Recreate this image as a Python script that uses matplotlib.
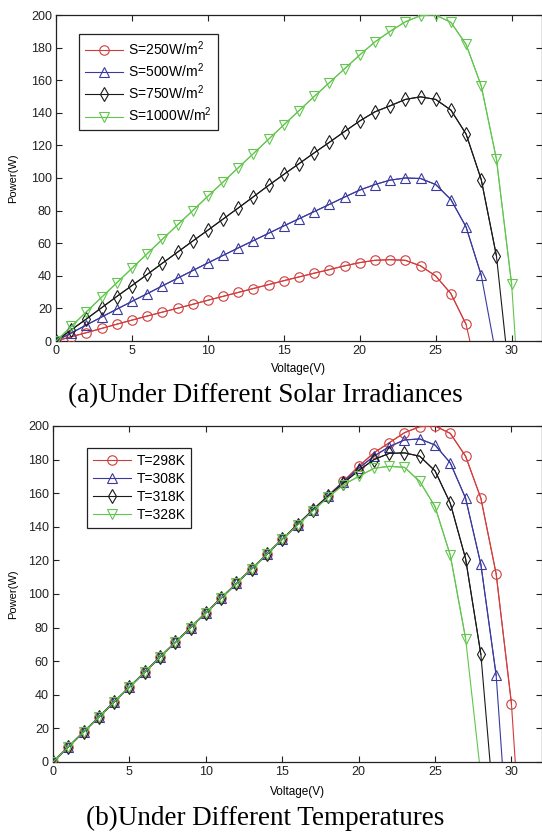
import matplotlib
matplotlib.use("Agg")
import matplotlib.pyplot as plt
import numpy as np

plt.rcParams['font.family'] = ['Liberation Sans', 'DejaVu Sans']
plt.rcParams['mathtext.fontset'] = 'custom'
plt.rcParams['mathtext.rm'] = 'Liberation Sans'

# ---------------- data ----------------
# (a) different irradiances: power (W) at integer voltages 0,1,2,...
p_s250 = [0, 2.6, 5.1, 7.7, 10.3, 12.8, 15.3, 17.7, 20.1, 22.5, 25.0, 27.4, 29.8,
          32.2, 34.6, 37.0, 39.3, 41.6, 43.8, 46.1, 48.1, 49.5, 49.9, 49.5, 46.1,
          39.9, 29.1, 10.2]
voc_s250 = 27.25
p_s500 = [0, 4.9, 9.8, 14.7, 19.5, 24.3, 29.0, 33.8, 38.5, 43.2, 47.9, 52.5, 57.1,
          61.6, 66.1, 70.6, 75.0, 79.4, 83.8, 88.3, 92.6, 96.0, 98.7, 100.0, 99.7,
          96.0, 86.8, 70.0, 40.3]
voc_s500 = 28.8
p_s750 = [0, 6.8, 13.5, 20.4, 27.3, 34.0, 40.8, 47.7, 54.5, 61.3, 68.0, 74.8, 81.6,
          88.5, 95.5, 102.2, 108.8, 115.4, 121.9, 128.5, 135.0, 140.6, 144.3, 148.2,
          149.8, 148.2, 141.7, 127.0, 99.0, 52.2]
voc_s750 = 29.6
p_s1000 = [0, 8.9, 17.9, 26.8, 35.7, 44.6, 53.5, 62.4, 71.2, 80.0, 88.8, 97.5, 106.3,
           115.0, 123.8, 132.6, 141.3, 150.0, 158.5, 167.0, 175.5, 183.5, 190.0,
           195.8, 199.6, 200.0, 195.5, 182.0, 156.5, 111.5, 34.8]
voc_s1000 = 30.25

# (b) different temperatures
p_t298 = [0, 8.9, 17.9, 26.8, 35.7, 44.6, 53.5, 62.4, 71.2, 80.0, 88.8, 97.5, 106.3,
          115.0, 123.8, 132.6, 141.3, 150.0, 158.5, 167.0, 176.0, 184.0, 190.0,
          196.0, 199.6, 200.0, 195.6, 182.0, 157.0, 112.0, 34.8]
voc_t298 = 30.25
p_t308 = [0, 8.9, 17.9, 26.8, 35.7, 44.6, 53.5, 62.4, 71.2, 80.0, 88.8, 97.5, 106.3,
          115.0, 123.8, 132.6, 141.3, 150.0, 158.4, 166.8, 174.8, 182.0, 187.7,
          191.7, 192.3, 188.7, 178.0, 157.0, 117.6, 51.6]
voc_t308 = 29.4
p_t318 = [0, 8.9, 17.9, 26.8, 35.7, 44.6, 53.5, 62.4, 71.2, 80.0, 88.8, 97.5, 106.3,
          115.0, 123.8, 132.6, 141.3, 150.0, 158.2, 166.0, 173.5, 180.0, 183.7,
          184.0, 182.0, 173.3, 154.0, 121.0, 64.0]
voc_t318 = 28.6
p_t328 = [0, 8.9, 17.9, 26.8, 35.7, 44.6, 53.5, 62.4, 71.2, 80.0, 88.8, 97.5, 106.3,
          115.0, 123.8, 132.6, 141.0, 149.5, 157.5, 165.0, 170.0, 174.8, 176.0,
          175.4, 167.0, 152.0, 123.0, 73.5]
voc_t328 = 27.9

labels_a = ['S=250W/m$^2$', 'S=500W/m$^2$', 'S=750W/m$^2$', 'S=1000W/m$^2$']
labels_b = ['T=298K', 'T=308K', 'T=318K', 'T=328K']
xticks = [0, 5, 10, 15, 20, 25, 30]
yticks = [0, 20, 40, 60, 80, 100, 120, 140, 160, 180, 200]
caption_a = '(a)Under Different Solar Irradiances'
caption_b = '(b)Under Different Temperatures'

# ---------------- style ----------------
colors = ['#d23c3c', '#3a3a9e', '#1a1a1a', '#62c64e']
markers = ['o', '^', 'd', 'v']

W, H = 542, 834
fig = plt.figure(figsize=(W / 100, H / 100), dpi=100)


def px_axes(l, t, r, b):
    return fig.add_axes([l / W, 1 - b / H, (r - l) / W, (b - t) / H])


def draw(ax, series, vocs, labels, leg_xy, leg_h, xlpad, ylab_px):
    handles = []
    for p, voc, c, m, lab in zip(series, vocs, colors, markers, labels):
        v = np.arange(len(p))
        ax.plot(list(v) + [voc], list(p) + [0], color=c, lw=0.8, zorder=2)
        h, = ax.plot(v, p, color=c, lw=0.8, marker=m, ms=6.8, mfc='none',
                     mec=c, mew=0.8, linestyle='-', label=lab, zorder=3)
        handles.append(h)
    ax.set_xlim(0, 32)
    ax.set_ylim(0, 200)
    ax.set_xticks(xticks)
    ax.set_yticks(yticks)
    ax.tick_params(direction='in', length=4, width=0.8, top=True, right=True,
                   labelsize=9, pad=3, colors='#222222')
    for s in ax.spines.values():
        s.set_linewidth(0.9)
        s.set_color('#222222')
    ax.set_xlabel('Voltage(V)', fontsize=8.5, labelpad=xlpad)
    ax.set_ylabel('Power(W)', fontsize=8)
    ax.yaxis.set_label_coords(-ylab_px / ax.bbox.width, 0.5)
    leg = ax.legend(handles=handles, loc='upper left',
                    bbox_to_anchor=(leg_xy[0] / W, 1 - leg_xy[1] / H),
                    bbox_transform=fig.transFigure, fontsize=10,
                    frameon=True, fancybox=False, edgecolor='#222222',
                    framealpha=1, borderaxespad=0, handlelength=2.8,
                    handletextpad=0.35, labelspacing=leg_h, borderpad=0.4)
    leg.get_frame().set_linewidth(0.9)


ax1 = px_axes(56, 15, 542, 341)
draw(ax1, [p_s250, p_s500, p_s750, p_s1000],
     [voc_s250, voc_s500, voc_s750, voc_s1000], labels_a, (79, 34), 0.25, 4, 38)

ax2 = px_axes(53, 426, 542, 762)
draw(ax2, [p_t298, p_t308, p_t318, p_t328],
     [voc_t298, voc_t308, voc_t318, voc_t328], labels_b, (87, 448), 0.3, 6, 35)

serif = ['Liberation Serif', 'DejaVu Serif']
fig.text(265 / W, 1 - 396 / H, caption_a, ha='center', va='center',
         fontsize=19.5, family=serif)
fig.text(265 / W, 1 - 818 / H, caption_b, ha='center', va='center',
         fontsize=19.5, family=serif)

fig.savefig('out.png', dpi=100)
